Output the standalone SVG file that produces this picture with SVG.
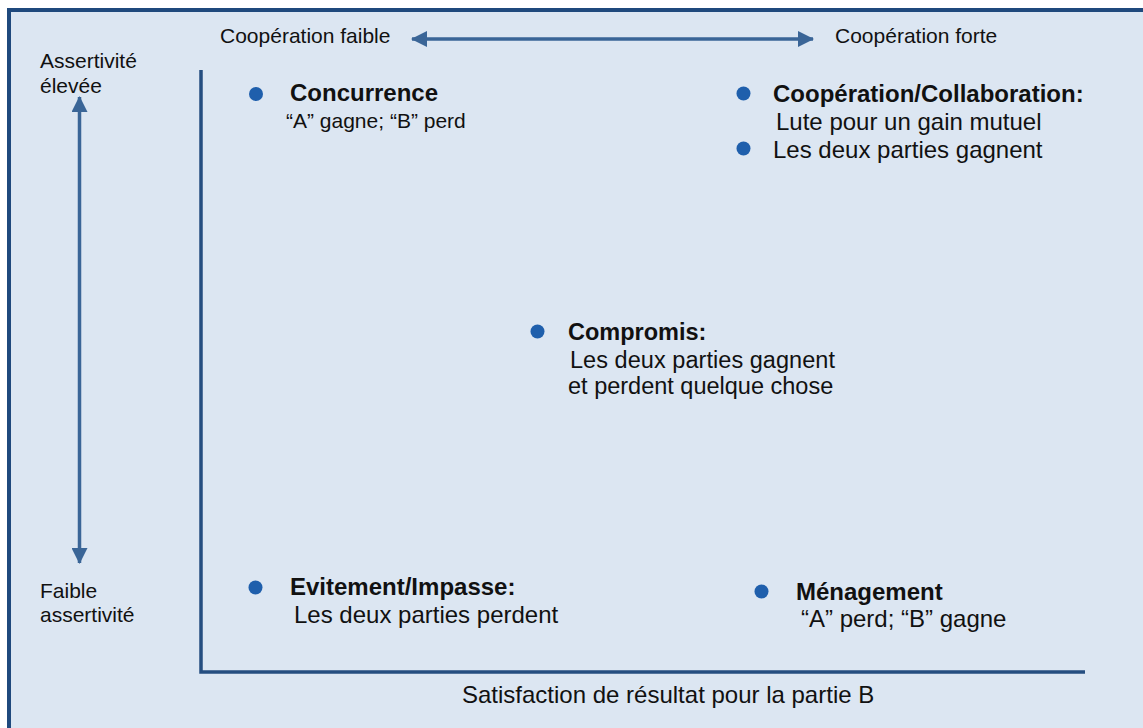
<svg xmlns="http://www.w3.org/2000/svg" width="1143" height="728" viewBox="0 0 1143 728">
  <defs>
    <style>
      .lbl { font-family: "Liberation Sans", Arial, sans-serif; font-size: 21px; fill: #111; }
      .txt { font-family: "Liberation Sans", Arial, sans-serif; font-size: 24px; fill: #111; }
      .hd { font-family: "Liberation Sans", Arial, sans-serif; font-size: 24px; font-weight: bold; fill: #111; }
      .sm { font-size: 21px; }
      .mid { font-size: 23.5px; }
      .axis { stroke: #254E80; stroke-width: 3.5; fill: none; }
      .arrow { stroke: #3A6597; stroke-width: 3.5; fill: none; }
      .dot { fill: #1F5FAC; }
    </style>
    <marker id="head" viewBox="0 0 16 16" refX="15" refY="8" markerWidth="16" markerHeight="16" markerUnits="userSpaceOnUse" orient="auto-start-reverse">
      <path d="M0,0 L16,8 L0,16 Z" fill="#3A6597"/>
    </marker>
  </defs>

  <!-- background panel with top/left frame -->
  <rect x="0" y="0" width="1143" height="728" fill="#FFFFFF"/>
  <rect x="9" y="10" width="1134" height="718" fill="#DCE6F2"/>
  <path d="M9,728 V10 H1143" fill="none" stroke="#1F497D" stroke-width="4"/>

  <!-- connectors: scale arrows and quadrant axes -->
  <g id="connectors">
    <line class="arrow" x1="412" y1="39" x2="813" y2="39" marker-start="url(#head)" marker-end="url(#head)"/>
    <line class="arrow" x1="79.5" y1="97" x2="79.5" y2="563" marker-start="url(#head)" marker-end="url(#head)"/>
    <path class="axis" d="M201,70 V672 H1085"/>
  </g>

  <!-- axis captions -->
  <g id="label-coop-low"><text class="lbl" x="220" y="42.5">Coopération faible</text></g>
  <g id="label-coop-high"><text class="lbl" x="835" y="42.5">Coopération forte</text></g>
  <g id="label-assert-high">
    <text class="lbl" x="40" y="68">Assertivité</text>
    <text class="lbl" x="40" y="92.5">élevée</text>
  </g>
  <g id="label-assert-low">
    <text class="lbl" x="40" y="598">Faible</text>
    <text class="lbl" x="40" y="621.5">assertivité</text>
  </g>
  <g id="label-outcome"><text class="txt" x="462" y="703">Satisfaction de résultat pour la partie B</text></g>

  <!-- quadrant styles -->
  <g id="concurrence">
    <circle class="dot" cx="256" cy="94" r="7"/>
    <text class="hd" x="290" y="101">Concurrence</text>
    <text class="txt sm" x="286" y="128">“A” gagne; “B” perd</text>
  </g>

  <g id="cooperation">
    <circle class="dot" cx="743.5" cy="93.5" r="7"/>
    <text class="hd" x="773" y="101.5">Coopération/Collaboration:</text>
    <text class="txt" x="776" y="130">Lute pour un gain mutuel</text>
    <circle class="dot" cx="743.5" cy="148.5" r="7"/>
    <text class="txt" x="773" y="157.5">Les deux parties gagnent</text>
  </g>

  <g id="compromis">
    <circle class="dot" cx="537.5" cy="331.5" r="7"/>
    <text class="hd mid" x="568" y="340">Compromis:</text>
    <text class="txt mid" x="570" y="367.5" textLength="265" lengthAdjust="spacing">Les deux parties gagnent</text>
    <text class="txt mid" x="568" y="394">et perdent quelque chose</text>
  </g>

  <g id="evitement">
    <circle class="dot" cx="255.5" cy="587.5" r="7"/>
    <text class="hd" x="290" y="595">Evitement/Impasse:</text>
    <text class="txt" x="294" y="623">Les deux parties perdent</text>
  </g>

  <g id="menagement">
    <circle class="dot" cx="761.5" cy="591.5" r="7"/>
    <text class="hd" x="796" y="600">Ménagement</text>
    <text class="txt" x="801" y="626.5">“A” perd; “B” gagne</text>
  </g>
</svg>
